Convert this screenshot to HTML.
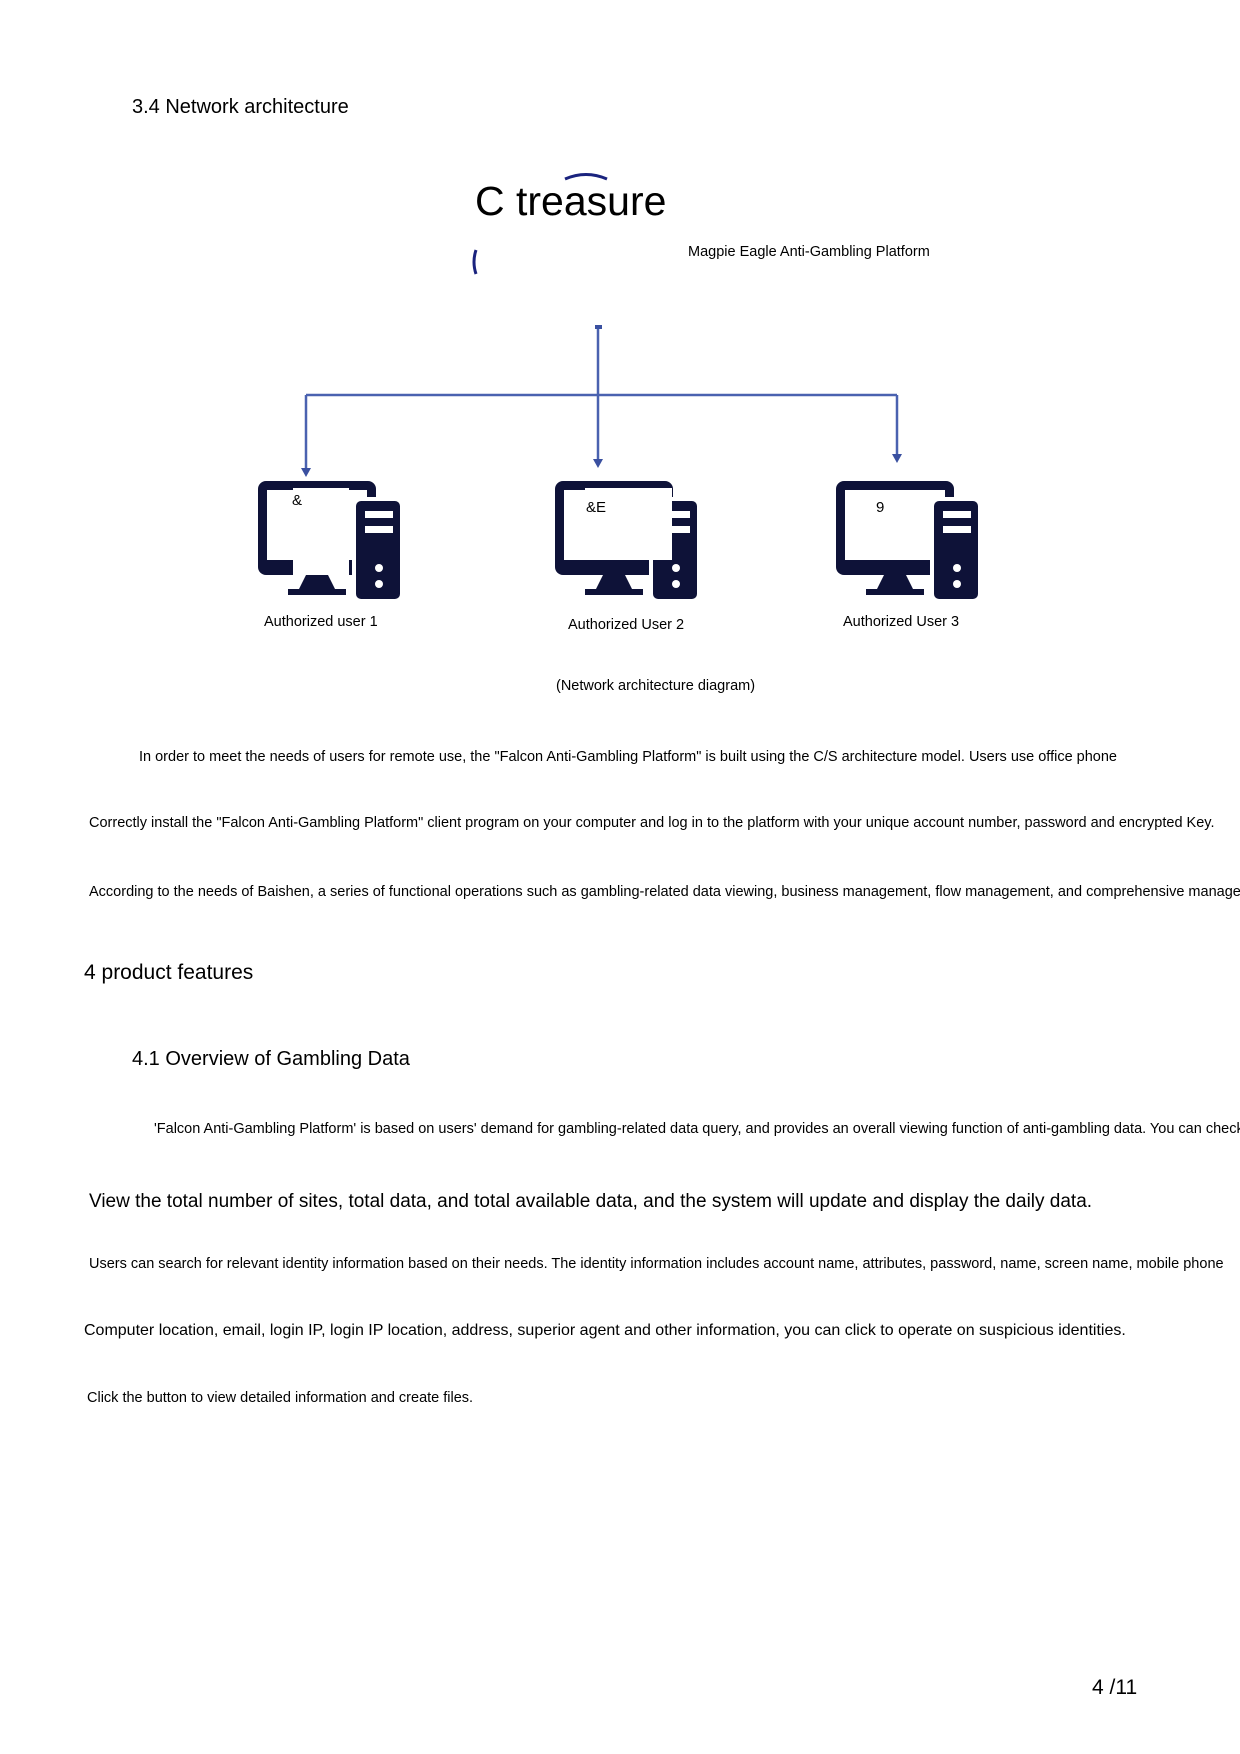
<!DOCTYPE html>
<html><head><meta charset="utf-8"><style>
body{margin:0;width:1240px;height:1754px;background:#fff;position:relative;overflow:hidden;font-family:"Liberation Sans",Arial,sans-serif;color:#000}
.t{position:absolute;white-space:nowrap;line-height:1}
</style></head><body>
<div class="t" style="left:132px;top:97px;font-size:20px">3.4 Network architecture</div>
<div class="t" style="left:475px;top:181px;font-size:41px">C treasure</div>
<div class="t" style="left:688px;top:245px;font-size:14.5px">Magpie Eagle Anti-Gambling Platform</div>

<svg style="position:absolute;left:0;top:0" width="1240" height="760">
<defs>
<g id="pc">
<rect x="0" y="0" width="118" height="94" rx="8" fill="#0e1238"/>
<rect x="9" y="9" width="100" height="70" fill="#fff"/>
<polygon points="48,94 70,94 78,110 40,110" fill="#0e1238"/>
<rect x="30" y="108" width="58" height="6" fill="#0e1238"/>
<rect x="96" y="18" width="48" height="102" rx="7" fill="#0e1238" stroke="#fff" stroke-width="4"/>
<rect x="107" y="30" width="28" height="7" fill="#fff"/>
<rect x="107" y="45" width="28" height="7" fill="#fff"/>
<circle cx="121" cy="87" r="4" fill="#fff"/>
<circle cx="121" cy="103" r="4" fill="#fff"/>
</g>
</defs>
<path d="M565,179 Q586,170 607,179" stroke="#1a237e" stroke-width="3" fill="none"/>
<path d="M476,250 Q472,262 476,274" stroke="#1a237e" stroke-width="3" fill="none"/>
<g stroke="#4a62b0" stroke-width="2.5" fill="none">
<line x1="598" y1="326" x2="598" y2="462"/>
<line x1="306" y1="395" x2="897" y2="395"/>
<line x1="306" y1="395" x2="306" y2="470"/>
<line x1="897" y1="395" x2="897" y2="457"/>
</g>
<rect x="595" y="325" width="7" height="4" fill="#3a50a0"/>
<g fill="#3a50a0">
<polygon points="301,468 311,468 306,477"/>
<polygon points="593,459 603,459 598,468"/>
<polygon points="892,454 902,454 897,463"/>
</g>
<use href="#pc" x="258" y="481"/>
<use href="#pc" x="555" y="481"/>
<use href="#pc" x="836" y="481"/>
<rect x="293" y="488" width="56" height="87" fill="#fff"/>
<rect x="585" y="488" width="87" height="72" fill="#fff"/>
<rect x="875" y="525" width="44" height="22" fill="#fff"/>
</svg>
<div class="t" style="left:292px;top:493px;font-size:15px">&amp;</div>
<div class="t" style="left:586px;top:500px;font-size:15px">&amp;E</div>
<div class="t" style="left:876px;top:500px;font-size:15px">9</div>

<div class="t" style="left:264px;top:615px;font-size:14.5px">Authorized user 1</div>
<div class="t" style="left:568px;top:618px;font-size:14.5px">Authorized User 2</div>
<div class="t" style="left:843px;top:615px;font-size:14.5px">Authorized User 3</div>
<div class="t" style="left:556px;top:679px;font-size:14.5px">(Network architecture diagram)</div>

<div class="t" style="left:139px;top:750px;font-size:14.5px">In order to meet the needs of users for remote use, the "Falcon Anti-Gambling Platform" is built using the C/S architecture model. Users use office phone</div>
<div class="t" style="left:89px;top:816px;font-size:14.5px">Correctly install the "Falcon Anti-Gambling Platform" client program on your computer and log in to the platform with your unique account number, password and encrypted Key.</div>
<div class="t" style="left:89px;top:885px;font-size:14.5px">According to the needs of Baishen, a series of functional operations such as gambling-related data viewing, business management, flow management, and comprehensive management</div>

<div class="t" style="left:84px;top:962px;font-size:21px">4 product features</div>
<div class="t" style="left:132px;top:1049px;font-size:20px">4.1 Overview of Gambling Data</div>
<div class="t" style="left:154px;top:1122px;font-size:14.5px">'Falcon Anti-Gambling Platform' is based on users' demand for gambling-related data query, and provides an overall viewing function of anti-gambling data. You can check</div>
<div class="t" style="left:89px;top:1192px;font-size:19px">View the total number of sites, total data, and total available data, and the system will update and display the daily data.</div>
<div class="t" style="left:89px;top:1257px;font-size:14.5px">Users can search for relevant identity information based on their needs. The identity information includes account name, attributes, password, name, screen name, mobile phone</div>
<div class="t" style="left:84px;top:1323px;font-size:16px">Computer location, email, login IP, login IP location, address, superior agent and other information, you can click to operate on suspicious identities.</div>
<div class="t" style="left:87px;top:1391px;font-size:14.5px">Click the button to view detailed information and create files.</div>
<div class="t" style="left:1092px;top:1677px;font-size:21px">4 /11</div>
</body></html>
